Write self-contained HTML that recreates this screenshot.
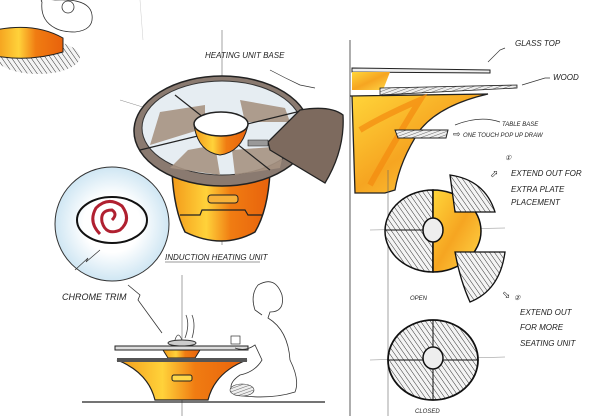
<!DOCTYPE html>
<html><head><meta charset="utf-8"><style>
html,body{margin:0;padding:0;background:#fff;}
svg{display:block}
text{font-family:"Liberation Sans",sans-serif;font-size:8px;fill:#222;font-style:italic}
</style></head><body>
<svg width="605" height="416" viewBox="0 0 605 416" xmlns="http://www.w3.org/2000/svg">
<defs>
<pattern id="h" width="4" height="4" patternUnits="userSpaceOnUse" patternTransform="rotate(-35)">
<rect width="4" height="4" fill="#f4f4f4"/><line x1="0" y1="0" x2="0" y2="4" stroke="#333" stroke-width="1"/></pattern>
<pattern id="h2" width="3" height="3" patternUnits="userSpaceOnUse" patternTransform="rotate(-20)">
<rect width="3" height="3" fill="#eee"/><line x1="0" y1="0" x2="3" y2="0" stroke="#444" stroke-width="0.8"/></pattern>
<linearGradient id="or" x1="0" x2="1"><stop offset="0" stop-color="#f39a1a"/><stop offset="0.35" stop-color="#ffd23a"/><stop offset="0.6" stop-color="#f07c12"/><stop offset="1" stop-color="#e8620c"/></linearGradient>
<linearGradient id="yl" x1="0" x2="1" y1="0" y2="1"><stop offset="0" stop-color="#ffd63a"/><stop offset="0.5" stop-color="#f6a521"/><stop offset="1" stop-color="#ffd94a"/></linearGradient>
<radialGradient id="bl"><stop offset="0.5" stop-color="#fff"/><stop offset="1" stop-color="#cfe6f3"/></radialGradient>
</defs>
<!-- top-left thumbnail -->
<ellipse cx="38" cy="57" rx="42" ry="17" fill="url(#h)"/>
<path d="M-5 30 Q35 22 63 38 L63 52 Q30 62 -5 56Z" fill="url(#or)" stroke="#222"/>
<path d="M42 2 Q38 -2 55 0 Q90 -2 92 15 Q94 30 75 32 Q62 32 55 28 Q40 20 42 2Z" fill="#fff" stroke="#333" stroke-width="0.8"/>
<circle cx="68" cy="7" r="6" fill="#fff" stroke="#333" stroke-width="0.8"/>
<line x1="140" y1="0" x2="143" y2="40" stroke="#ccc" stroke-width="0.5"/>
<!-- main table -->
<line x1="222" y1="30" x2="222" y2="245" stroke="#666" stroke-width="0.6"/>
<line x1="120" y1="100" x2="330" y2="165" stroke="#888" stroke-width="0.5"/>
<path d="M172 172 L270 172 Q268 210 255 232 Q222 250 185 232 Q174 210 172 172Z" fill="url(#or)" stroke="#222" stroke-width="1.5"/>
<rect x="208" y="195" width="30" height="8" rx="3" fill="#f7b23a" stroke="#222"/>
<path d="M180 215 L200 215 L202 210 L245 210 L248 215 L262 215" fill="none" stroke="#222" stroke-width="1.2"/>
<ellipse cx="222" cy="131" rx="88" ry="55" fill="#8a7a70" stroke="#222" stroke-width="1.5"/>
<ellipse cx="222" cy="128" rx="80" ry="47" fill="#e6edf2" stroke="#333"/>
<path d="M160 112 L205 105 L205 128 L150 145Z M240 100 L285 108 L290 122 L245 122Z M188 150 L215 145 L220 175 L170 168Z M232 150 L285 146 L280 168 L235 175Z" fill="#a69282" opacity="0.9"/>
<line x1="140" y1="150" x2="305" y2="110" stroke="#222" stroke-width="1.2"/>
<line x1="175" y1="95" x2="270" y2="170" stroke="#222" stroke-width="1.2"/>
<path d="M194 125 Q198 152 220 155 Q242 152 248 125Z" fill="url(#or)" stroke="#222"/>
<ellipse cx="221" cy="124" rx="27" ry="12" fill="#fff" stroke="#222" stroke-width="1.5"/>
<path d="M268 142 L300 110 Q330 105 343 115 Q345 150 325 183 L270 150Z" fill="#7d6a5e" stroke="#222" stroke-width="1.3"/>
<path d="M248 140 L268 140 L268 146 L248 146Z" fill="#999" stroke="#222" stroke-width="0.6"/>
<path d="M270 70 Q285 78 300 85 L315 88" fill="none" stroke="#333" stroke-width="0.7"/>
<text x="205" y="58">HEATING UNIT BASE</text>
<text x="165" y="260">INDUCTION HEATING UNIT</text>
<line x1="165" y1="262" x2="260" y2="262" stroke="#333" stroke-width="0.6"/>
<!-- chrome detail circle -->
<circle cx="112" cy="224" r="57" fill="url(#bl)" stroke="#333"/>
<ellipse cx="112" cy="220" rx="35" ry="23" fill="none" stroke="#111" stroke-width="2"/>
<path d="M112 220 Q118 214 112 210 Q100 210 102 222 Q106 236 120 230 Q132 220 122 206 Q108 196 96 208 Q88 222 100 234" fill="none" stroke="#b02030" stroke-width="3"/>
<path d="M75 270 L88 258 L86 262 L100 250" fill="none" stroke="#333" stroke-width="0.7"/>
<text x="62" y="300" style="font-size:9px">CHROME TRIM</text>
<path d="M128 285 L140 295 L138 300 L162 333" fill="none" stroke="#333" stroke-width="0.8"/>
<!-- bottom table -->
<line x1="182" y1="275" x2="182" y2="416" stroke="#666" stroke-width="0.6"/>
<line x1="82" y1="402" x2="325" y2="402" stroke="#222" stroke-width="1.2"/>
<path d="M175 340 Q178 330 182 340 M185 338 Q190 325 186 315 M192 338 Q196 325 192 315" fill="none" stroke="#444" stroke-width="0.8"/>
<ellipse cx="182" cy="343" rx="14" ry="3" fill="#ccc" stroke="#333"/>
<rect x="115" y="346" width="133" height="4" fill="#ddd" stroke="#222"/>
<path d="M163 350 L200 350 L195 358 L168 358Z" fill="url(#or)" stroke="#222"/>
<path d="M117 360 L247 360 Q215 372 208 400 L155 400 Q148 372 117 360Z" fill="url(#or)" stroke="#222" stroke-width="1.2"/>
<rect x="117" y="358" width="130" height="4" fill="#555"/>
<rect x="172" y="375" width="20" height="6" rx="2" fill="#ffd84a" stroke="#222"/>
<!-- person -->
<path d="M258 285 Q275 275 282 295 Q285 312 270 312 L268 318 Q288 330 290 360 Q300 380 295 392 Q270 400 235 395 Q225 385 240 375 Q255 372 262 360 L255 345 Q245 352 235 348 M258 285 Q250 295 255 310 L262 315" fill="none" stroke="#333" stroke-width="0.8"/>
<ellipse cx="242" cy="390" rx="12" ry="6" fill="url(#h2)" stroke="#333" stroke-width="0.6"/>
<rect x="231" y="336" width="9" height="8" fill="#fff" stroke="#333" stroke-width="0.7"/>
<!-- side section -->
<line x1="350" y1="40" x2="350" y2="416" stroke="#333" stroke-width="0.8"/>
<path d="M352 68 L490 70 L490 73 L352 72Z" fill="#eee" stroke="#222"/>
<path d="M352 72 L390 72 Q385 85 383 90 L352 90Z" fill="url(#yl)"/>
<path d="M380 88 L517 85 L517 88 L380 95Z" fill="url(#h2)" stroke="#222" stroke-width="0.8"/>
<path d="M350 96 L488 94 Q440 105 420 130 Q400 160 395 190 L385 193 L355 193 L352 96Z" fill="url(#yl)" stroke="#222" stroke-width="1.3"/>
<path d="M360 130 Q385 115 420 100 Q395 140 370 185" fill="none" stroke="#f38a10" stroke-width="6" opacity="0.7"/>
<path d="M395 130 L448 130 L446 138 L398 138Z" fill="url(#h2)" stroke="#222"/>
<path d="M455 125 Q480 115 500 122" fill="none" stroke="#333" stroke-width="0.7"/>
<text x="515" y="46">GLASS TOP</text>
<path d="M488 62 L500 50 L505 48" fill="none" stroke="#333" stroke-width="0.7"/>
<text x="553" y="80">WOOD</text>
<path d="M522 85 L545 78 L550 78" fill="none" stroke="#333" stroke-width="0.7"/>
<text x="502" y="126" style="font-size:6px">TABLE BASE</text>
<text x="463" y="137" style="font-size:6px">ONE TOUCH POP UP DRAW</text>
<text x="453" y="137" style="font-size:9px;font-style:normal">⇨</text>
<!-- open plan -->
<line x1="388" y1="170" x2="388" y2="416" stroke="#666" stroke-width="0.6"/>
<line x1="370" y1="230" x2="505" y2="228" stroke="#888" stroke-width="0.5"/>
<line x1="370" y1="360" x2="505" y2="357" stroke="#888" stroke-width="0.5"/>
<path d="M433 190 A48 41 0 0 0 433 272Z" fill="url(#h)" stroke="#111" stroke-width="1.5"/>
<path d="M433 190 A48 41 0 0 1 433 272Z" fill="url(#yl)" stroke="#111" stroke-width="1.5"/>
<path d="M450 175 Q485 180 495 212 L455 212Z" fill="url(#h)" stroke="#111" stroke-width="1.3"/>
<path d="M455 252 L505 252 Q500 290 470 302 Q460 280 455 252Z" fill="url(#h)" stroke="#111" stroke-width="1.3"/>
<line x1="385" y1="230" x2="433" y2="230" stroke="#111" stroke-width="1"/>
<ellipse cx="433" cy="230" rx="10" ry="12" fill="#eee" stroke="#111" stroke-width="1.5"/>
<text x="511" y="176">EXTEND OUT FOR</text>
<text x="511" y="192">EXTRA PLATE</text>
<text x="511" y="205">PLACEMENT</text>
<text x="505" y="160" style="font-size:7px">①</text>
<text x="490" y="177" style="font-size:10px;font-style:normal">⬀</text>
<text x="410" y="300" style="font-size:6px">OPEN</text>
<text x="502" y="298" style="font-size:10px;font-style:normal">⬂</text>
<text x="514" y="300" style="font-size:7px">②</text>
<text x="520" y="315">EXTEND OUT</text>
<text x="520" y="330">FOR MORE</text>
<text x="520" y="346">SEATING UNIT</text>
<!-- closed -->
<ellipse cx="433" cy="360" rx="45" ry="40" fill="url(#h)" stroke="#111" stroke-width="1.8"/>
<line x1="388" y1="360" x2="478" y2="360" stroke="#111"/>
<line x1="433" y1="320" x2="433" y2="400" stroke="#111"/>
<ellipse cx="433" cy="358" rx="10" ry="11" fill="#eee" stroke="#111" stroke-width="1.5"/>
<text x="415" y="413" style="font-size:6px">CLOSED</text>
</svg>
</body></html>
